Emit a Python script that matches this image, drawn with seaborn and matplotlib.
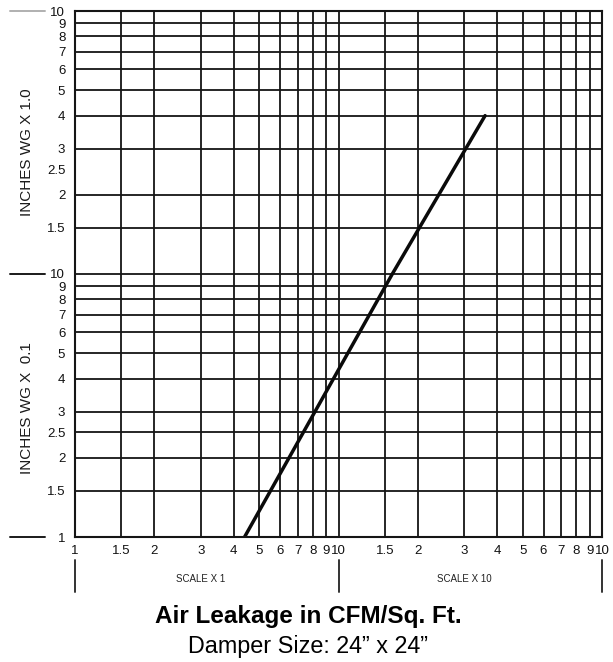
import matplotlib
matplotlib.use("Agg")
import matplotlib.pyplot as plt
import matplotlib.transforms as mtransforms
import seaborn as sns
import pandas as pd

# leakage line (CFM/sq.ft vs inches WG)
leak_cfm = [4.4, 16.0, 36.0]
leak_wg = [0.1, 1.0, 4.0]

x_ticks = [1, 1.5, 2, 3, 4, 5, 6, 7, 8, 9, 10,
           15, 20, 30, 40, 50, 60, 70, 80, 90, 100]
x_labels = ["1", "1.5", "2", "3", "4", "5", "6", "7", "8", "9", "10",
            "1.5", "2", "3", "4", "5", "6", "7", "8", "9", "10"]
y_ticks = [0.1, 0.15, 0.2, 0.25, 0.3, 0.4, 0.5, 0.6, 0.7, 0.8, 0.9, 1,
           1.5, 2, 2.5, 3, 4, 5, 6, 7, 8, 9, 10]
y_labels = ["1", "1.5", "2", "2.5", "3", "4", "5", "6", "7", "8", "9", "10",
            "1.5", "2", "2.5", "3", "4", "5", "6", "7", "8", "9", "10"]
no_grid_y = [2.5]  # top decade has no 2.5 line

df = pd.DataFrame({"cfm": leak_cfm, "wg": leak_wg})

sns.set_theme(style="white")
plt.rcParams["font.family"] = ["Liberation Sans", "DejaVu Sans"]

fig = plt.figure(figsize=(6.13, 6.62), dpi=100)
ax = fig.add_axes([75 / 613, 1 - 537 / 662, 527 / 613, 526 / 662])

sns.lineplot(data=df, x="cfm", y="wg", ax=ax, color="#0a0a0a", linewidth=2.5)

ax.set_xscale("log")
ax.set_yscale("log")
ax.set_xlim(1, 100)
ax.set_ylim(0.1, 10)
ax.set_xticks(x_ticks)
ax.set_xticklabels(x_labels)
ax.set_yticks(y_ticks)
ax.set_yticklabels(y_labels)
ax.minorticks_off()
ax.tick_params(axis="both", length=0, labelsize=9.5, colors="#111111")
ax.tick_params(axis="x", pad=6)
ax.tick_params(axis="y", pad=7)
ax.set_xlabel("")
ax.set_ylabel("")

ax.grid(True, color="#151515", linewidth=1.3)
for val, gl in zip(y_ticks, ax.get_ygridlines()):
    if val in no_grid_y:
        gl.set_visible(False)
for s in ax.spines.values():
    s.set_color("#151515")
    s.set_linewidth(1.5)

# decade marks left of the y axis
for yf, col in [(1.0, "#b0b0b0"), (0.5, "#1a1a1a"), (0.0, "#1a1a1a")]:
    ax.plot([-0.123, -0.057], [yf, yf], transform=ax.transAxes,
            color=col, linewidth=1.4, clip_on=False)

# decade marks below the x axis
trans = mtransforms.blended_transform_factory(ax.transData, ax.transAxes)
for xv in [1, 10, 100]:
    ax.plot([xv, xv], [-0.044, -0.105], transform=trans,
            color="#333333", linewidth=1.4, clip_on=False)
ax.text(3.0, -0.08, "SCALE X 1", transform=trans, ha="center", va="center",
        fontsize=7, color="#222222")
ax.text(30.0, -0.08, "SCALE X 10", transform=trans, ha="center", va="center",
        fontsize=7, color="#222222")

# axis captions for each decade
fig.text(27 / 613, 1 - 152 / 662, "INCHES WG X 1.0", rotation=90,
         ha="center", va="center", fontsize=11, color="#1a1a1a")
fig.text(27 / 613, 1 - 408 / 662, "INCHES WG X  0.1", rotation=90,
         ha="center", va="center", fontsize=11, color="#1a1a1a")

fig.text(0.503, 1 - 617 / 662, "Air Leakage in CFM/Sq. Ft.", ha="center",
         va="center", fontsize=17.5, fontweight="bold", color="#000000")
fig.text(0.503, 1 - 646 / 662, "Damper Size: 24\u201d x 24\u201d", ha="center",
         va="center", fontsize=16.8, color="#000000")

fig.savefig("out.png", dpi=100)
